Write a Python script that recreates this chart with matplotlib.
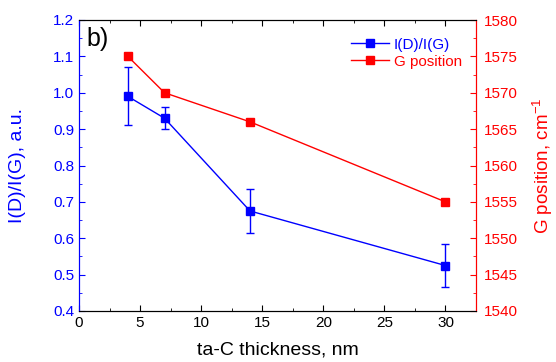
import matplotlib
matplotlib.use("Agg")
import matplotlib.pyplot as plt
from matplotlib.ticker import MultipleLocator

plt.rcParams['font.family'] = ['Liberation Sans', 'DejaVu Sans']
plt.rcParams['mathtext.fontset'] = 'custom'
plt.rcParams['mathtext.rm'] = 'Liberation Sans'
plt.rcParams['mathtext.it'] = 'Liberation Sans'
plt.rcParams['mathtext.default'] = 'regular'

thickness = [4, 7, 14, 30]
ratio = [0.99, 0.93, 0.675, 0.525]
ratio_err = [0.08, 0.03, 0.06, 0.06]
g_pos = [1575, 1570, 1566, 1555]

fig = plt.figure(figsize=(5.56, 3.62), dpi=100)
ax = fig.add_axes([79/556, 1 - 311/362, (476-79)/556, (311-20)/362])
ax2 = ax.twinx()

blue = '#0000ff'
red = '#ff0000'

l1 = ax.errorbar(thickness, ratio, yerr=ratio_err, color=blue, marker='s', markersize=6,
                 lw=1, elinewidth=1, capsize=3, capthick=1, label='I(D)/I(G)')
l2, = ax2.plot(thickness, g_pos, color=red, marker='s', markersize=6, lw=1, label='G position')

ax.set_xlim(0, 32.5)
ax.set_ylim(0.4, 1.2)
ax2.set_ylim(1540, 1580)

ax.xaxis.set_major_locator(MultipleLocator(5))
ax.xaxis.set_minor_locator(MultipleLocator(2.5))
ax.yaxis.set_major_locator(MultipleLocator(0.1))
ax.yaxis.set_minor_locator(MultipleLocator(0.05))
ax2.yaxis.set_major_locator(MultipleLocator(5))
ax2.yaxis.set_minor_locator(MultipleLocator(2.5))
ax.yaxis.set_major_formatter(matplotlib.ticker.FormatStrFormatter('%.1f'))

ax.tick_params(axis='x', which='both', direction='in', top=True, labelsize=11, color='black')
ax.tick_params(axis='x', which='major', length=4)
ax.tick_params(axis='x', which='minor', length=2)
ax.tick_params(axis='y', which='both', direction='in', colors=blue, labelsize=11)
ax.tick_params(axis='y', which='major', length=4)
ax.tick_params(axis='y', which='minor', length=2)
ax2.tick_params(axis='y', which='both', direction='in', colors=red, labelsize=11, pad=6)
ax2.tick_params(axis='y', which='major', length=4)
ax2.tick_params(axis='y', which='minor', length=2)

ax.spines['left'].set_color(blue)
ax2.spines['left'].set_color(blue)
ax2.spines['right'].set_color(red)
ax.spines['right'].set_color(red)

ax.set_xlabel('ta-C thickness, nm', fontsize=14)
ax.set_ylabel('I(D)/I(G), a.u.', fontsize=14, color=blue)
ax2.set_ylabel('G position, cm$^{-1}$', fontsize=13.5, color=red)
ax.xaxis.set_label_coords(0.5, -0.105)
ax.yaxis.set_label_coords(-0.1335, 0.5)
ax2.yaxis.set_label_coords(1.138, 0.5)

ax.text(0.018, 0.975, 'b)', transform=ax.transAxes, fontsize=18, va='top', ha='left')

leg = ax2.legend([l1.lines[0], l2], ['I(D)/I(G)', 'G position'], loc='upper right',
                 frameon=False, fontsize=11, handlelength=2.5, borderaxespad=0.0,
                 labelspacing=0.2, handletextpad=0.3, bbox_to_anchor=(0.98, 0.96))
leg.get_texts()[0].set_color(blue)
leg.get_texts()[1].set_color(red)

fig.savefig('out.png', dpi=100)
